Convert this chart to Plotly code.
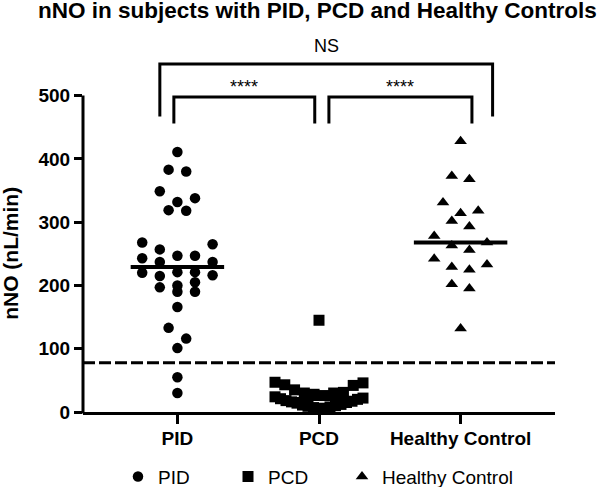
import plotly.graph_objects as go

# ---------------- data ----------------
categories = ["PID", "PCD", "Healthy Control"]
pid_values = [411, 383, 380, 349, 338, 332, 319, 318, 268, 265, 257, 247, 247,
              243, 237, 237, 221, 221, 220, 216, 215, 205, 200, 197, 190, 190,
              166, 133, 116, 101, 55, 30]
pcd_values = [145, 47, 46, 43, 42, 35, 31, 30, 30, 28, 26, 24, 22, 21, 20, 18,
              17, 16, 15, 14, 12, 11, 10, 9, 8, 7, 6, 5]
hc_values = [428, 373, 368, 331, 318, 314, 302, 293, 278, 268, 263, 256, 242,
             233, 229, 225, 202, 195, 132]
threshold = 78
y_ticks = [0, 100, 200, 300, 400, 500]
comparisons = [("PID", "PCD", "****"), ("PCD", "Healthy Control", "****"),
               ("PID", "Healthy Control", "NS")]

# ---------------- layout geometry ----------------
W, H = 600, 487
ML, MR, MT, MB = 83, 45, 45, 75
X_RANGE = [-2 / 3, 8 / 3]
Y_RANGE = [0, 580]
PLOT_W = W - ML - MR
PLOT_H = H - MT - MB
PX_X = PLOT_W / (X_RANGE[1] - X_RANGE[0])
PX_Y = PLOT_H / (Y_RANGE[1] - Y_RANGE[0])
FONT = "Liberation Sans, Arial, Helvetica, sans-serif"
LEGEND_X_PX = [118, 228, 342]   # left edge of each legend entry


def median(v):
    s = sorted(v)
    n = len(s)
    return s[n // 2] if n % 2 else (s[n // 2 - 1] + s[n // 2]) / 2


def swarm_offsets(values, row_px=14, step_px=17.6, max_width_px=80):
    """Prism-like row spreading: group close values into rows, spread them
    symmetrically around the category centre (lowest values in the middle)."""
    n = len(values)
    order = sorted(range(n), key=lambda i: -values[i])
    rows = []
    for i in order:
        if rows and (values[rows[-1][0]] - values[i]) * PX_Y < row_px:
            rows[-1].append(i)
        else:
            rows.append([i])
    offs = [0.0] * n
    for row in rows:
        m = len(row)
        s = step_px if m < 2 else min(step_px, max_width_px / (m - 1))
        slots = sorted([k - (m - 1) / 2 for k in range(m)], key=lambda v: (abs(v), -v))
        asc = sorted(row, key=lambda i: values[i])
        for i, sl in zip(asc, slots):
            offs[i] = sl * s / PX_X
    return offs


groups = [
    (categories[0], pid_values, "circle", 10.5, 78),
    (categories[1], pcd_values, "square", 11, 88),
    (categories[2], hc_values, "triangle-up", 11, 78),
]
legend_ids = ["legend", "legend2", "legend3"]

fig = go.Figure()
for ci, (name, vals, sym, size, wmax) in enumerate(groups):
    offs = swarm_offsets(vals, max_width_px=wmax)
    fig.add_trace(go.Scatter(
        x=[ci + o for o in offs], y=vals, mode="markers", name=name,
        marker=dict(symbol=sym, size=size, color="black", line=dict(width=0)),
        cliponaxis=False, showlegend=True, legend=legend_ids[ci],
    ))

# median lines
for ci, (name, vals, sym, size, wmax) in enumerate(groups):
    m = median(vals)
    fig.add_trace(go.Scatter(
        x=[ci - 0.33, ci + 0.33], y=[m, m], mode="lines",
        line=dict(color="black", width=4), showlegend=False, hoverinfo="skip",
    ))

shapes = []
# threshold dashed line
shapes.append(dict(type="line", xref="paper", x0=0, x1=1, yref="y",
                   y0=threshold, y1=threshold,
                   line=dict(color="black", width=3, dash="12px,4px")))
# y-axis line (0 .. 500 only)
shapes.append(dict(type="line", xref="paper", x0=0, x1=0, yref="paper",
                   y0=-1.5 / PLOT_H, y1=y_ticks[-1] / Y_RANGE[1],
                   line=dict(color="black", width=3)))

# significance brackets
bracket_geom = {
    ("PID", "PCD"): (-0.025, -0.03, 498, 456),
    ("PCD", "Healthy Control"): (0.07, 0.08, 498, 456),
    ("PID", "Healthy Control"): (-0.124, 0.226, 550, 467),
}
annotations = []
for a, b, label in comparisons:
    ia, ib = categories.index(a), categories.index(b)
    da, db, ytop, ybot = bracket_geom[(a, b)]
    xa, xb = ia + da, ib + db
    shapes.append(dict(type="path", xref="x", yref="y",
                       path=f"M {xa},{ybot} L {xa},{ytop} L {xb},{ytop} L {xb},{ybot}",
                       line=dict(color="black", width=3)))
    if label == "NS":
        annotations.append(dict(x=(xa + xb) / 2, y=ytop + 29, xref="x", yref="y",
                                text=label, showarrow=False, yanchor="middle",
                                font=dict(family=FONT, size=18, color="black")))
    else:
        annotations.append(dict(x=(xa + xb) / 2, y=ytop - 3, xref="x", yref="y",
                                text=label, showarrow=False, yanchor="bottom",
                                font=dict(family=FONT, size=18, color="black")))

# y-axis title (centred on the 0..500 span)
annotations.append(dict(text="nNO (nL/min)", textangle=-90, xref="paper", x=0,
                        xshift=11 - ML, xanchor="center", yref="y",
                        y=y_ticks[-1] / 2, yanchor="middle", showarrow=False,
                        font=dict(family=FONT, size=21, color="black", weight="bold")))


def legend_box(xpx):
    return dict(orientation="h", xref="container", x=xpx / W, xanchor="left",
                yref="container", y=1 - 476.7 / H, yanchor="middle",
                font=dict(family=FONT, size=19, color="black"),
                itemwidth=30, bgcolor="rgba(0,0,0,0)", borderwidth=0)


fig.update_layout(
    width=W, height=H,
    margin=dict(l=ML, r=MR, t=MT, b=MB, autoexpand=False),
    paper_bgcolor="white", plot_bgcolor="white",
    font=dict(family=FONT, color="black"),
    title=dict(text="nNO in subjects with PID, PCD and Healthy Controls",
               font=dict(family=FONT, size=22.5, color="black", weight="bold"),
               x=38 / W, xanchor="left", xref="container",
               y=1, yanchor="top", yref="container", pad=dict(t=2, l=0)),
    xaxis=dict(range=X_RANGE, tickmode="array", tickvals=[0, 1, 2],
               ticktext=categories, showline=True, linecolor="black",
               linewidth=3, ticks="outside", ticklen=9, tickwidth=3,
               tickcolor="black", showgrid=False, zeroline=False,
               automargin=False, ticklabelstandoff=-2,
               tickfont=dict(family=FONT, size=19, color="black", weight="bold")),
    yaxis=dict(range=Y_RANGE, tickmode="array", tickvals=y_ticks,
               showline=False, ticks="outside", ticklen=8, tickwidth=3,
               tickcolor="black", showgrid=False, zeroline=False,
               automargin=False,
               tickfont=dict(family=FONT, size=19, color="black", weight="bold")),
    legend=legend_box(LEGEND_X_PX[0]),
    legend2=legend_box(LEGEND_X_PX[1]),
    legend3=legend_box(LEGEND_X_PX[2]),
    shapes=shapes, annotations=annotations,
    showlegend=True,
)

fig.write_html("out.html",
               config={"displayModeBar": False},
               post_script="document.body.style.margin='0';"
                           "document.body.style.overflow='hidden';")
